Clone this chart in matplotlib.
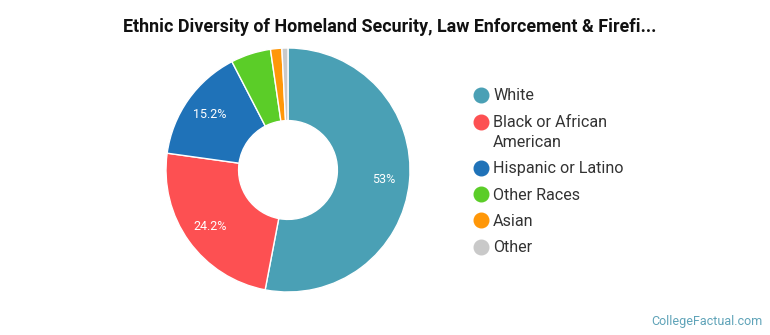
import matplotlib
matplotlib.use("Agg")
import matplotlib.pyplot as plt
from matplotlib.lines import Line2D
from matplotlib.legend_handler import HandlerLine2D
import numpy as np

title = "Ethnic Diversity of Homeland Security, Law Enforcement & Firefi..."
categories = ["White", "Black or African\nAmerican", "Hispanic or Latino", "Other Races", "Asian", "Other"]
values = [53.0, 24.2, 15.2, 5.3, 1.5, 0.8]
pct_labels = ["53%", "24.2%", "15.2%", "", "", ""]
colors = ["#4aa0b5", "#fd5052", "#1f72b8", "#5bcd28", "#ff9708", "#c9c9c9"]

plt.rcParams['font.family'] = ['Roboto', 'DejaVu Sans']

W, H = 770, 335
fig = plt.figure(figsize=(W / 100, H / 100), dpi=100)
cx, cy, R = 288, 170, 122
ax = fig.add_axes([(cx - R) / W, (H - cy - R) / H, 2 * R / W, 2 * R / H])
wedges, _ = ax.pie(values, colors=colors, startangle=90, counterclock=False,
                   radius=1.0, wedgeprops=dict(width=0.595, edgecolor="white", linewidth=1))
total = sum(values)
cum = 0
for v, lab in zip(values, pct_labels):
    mid = (cum + v / 2) / total * 2 * np.pi
    cum += v
    if lab:
        r = 0.79
        ax.text(r * np.sin(mid), r * np.cos(mid), lab, ha="center", va="center",
                color="white", fontsize=9)
ax.set_xlim(-1, 1)
ax.set_ylim(-1, 1)
ax.set_aspect("equal")
ax.axis("off")

fig.text(390 / W, 1 - 27 / H, title, ha="center", va="center", fontsize=12.9,
         fontweight="bold", color="#111111")


class TopHandler(HandlerLine2D):
    def __init__(self, offset, **kw):
        super().__init__(**kw)
        self.offset = offset

    def create_artists(self, legend, orig_handle, xdescent, ydescent, width,
                       height, fontsize, trans):
        arts = super().create_artists(legend, orig_handle, xdescent, ydescent,
                                      width, height, fontsize, trans)
        for a in arts:
            a.set_ydata(np.asarray(a.get_ydata()) + self.offset)
        return arts


handles = [Line2D([], [], marker="o", linestyle="none", markersize=10.5,
                  markerfacecolor=c, markeredgecolor=c) for c in colors]
hmap = {handles[i]: TopHandler(7.5) for i, c in enumerate(categories) if "\n" in c}
leg = fig.legend(handles, categories, loc="upper left",
                 bbox_to_anchor=(465 / W, 1 - 82 / H), frameon=False,
                 fontsize=11.6, labelcolor="#333333", handletextpad=0.15,
                 labelspacing=0.7, handlelength=1.2, borderaxespad=0,
                 handler_map=hmap)
for t in leg.get_texts():
    t.set_linespacing(1.45)

fig.text(763 / W, 1 - 321 / H, "CollegeFactual.com", ha="right", va="center",
         fontsize=9, color="#5fa3b8")

fig.savefig("out.png", dpi=100)
